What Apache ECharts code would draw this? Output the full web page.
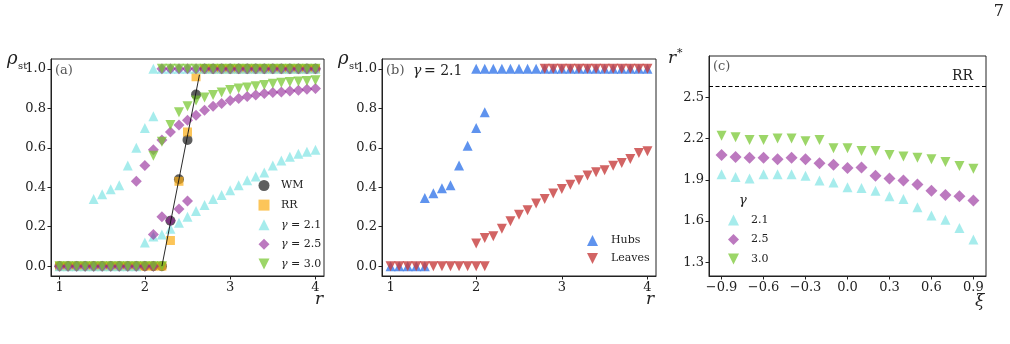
<!DOCTYPE html>
<html>
<head>
<meta charset="utf-8">
<script src="https://cdn.jsdelivr.net/npm/echarts@6/dist/echarts.min.js"></script>
<style>
  html, body { margin: 0; padding: 0; background: #fff; }
  #chart { width: 1010px; height: 344px; }
</style>
</head>
<body>
<div id="chart"></div>
<script>
// ---- panel (a): rho_st vs r ----
const rGrid = [1.0, 1.1, 1.2, 1.3, 1.4, 1.5, 1.6, 1.7, 1.8, 1.9, 2.0, 2.1, 2.2, 2.3, 2.4, 2.5,
  2.6, 2.7, 2.8, 2.9, 3.0, 3.1, 3.2, 3.3, 3.4, 3.5, 3.6, 3.7, 3.8, 3.9, 4.0];
const wmRho = [0, 0, 0, 0, 0, 0, 0, 0, 0, 0, 0, 0, 0, 0.23, 0.44, 0.64, 0.87,
  1, 1, 1, 1, 1, 1, 1, 1, 1, 1, 1, 1, 1, 1];
const rrRho = [0, 0, 0, 0, 0, 0, 0, 0, 0, 0, 0, 0, 0, 0.13, 0.43, 0.68, 0.96,
  1, 1, 1, 1, 1, 1, 1, 1, 1, 1, 1, 1, 1, 1];
const wmFitR = [2.2, 2.64];
const wmFitRho = [0, 0.97];

// gamma = 2.1
const g21LowRho = [0, 0, 0, 0, 0, 0, 0, 0, 0, 0, 0.12, 0.15, 0.16, 0.19, 0.22, 0.25, 0.28,
  0.31, 0.34, 0.36, 0.385, 0.41, 0.435, 0.455, 0.475, 0.51, 0.535, 0.555, 0.57, 0.58, 0.59];
const g21MidR = [1.4, 1.5, 1.6, 1.7, 1.8, 1.9, 2.0, 2.1];
const g21MidRho = [0.34, 0.365, 0.39, 0.41, 0.51, 0.60, 0.70, 0.76];
const g21TopR = [2.1, 2.2, 2.3, 2.4, 2.5, 2.6, 2.7, 2.8, 2.9, 3.0, 3.1, 3.2, 3.3, 3.4, 3.5,
  3.6, 3.7, 3.8, 3.9, 4.0];

// gamma = 2.5
const g25ZeroR = [1.0, 1.1, 1.2, 1.3, 1.4, 1.5, 1.6, 1.7, 1.8, 1.9, 2.0, 2.1];
const g25MidR = [2.1, 2.2, 2.3, 2.4, 2.5];
const g25MidRho = [0.16, 0.25, 0.23, 0.29, 0.33];
const g25UpR = [1.9, 2.0, 2.1, 2.2, 2.3, 2.4, 2.5, 2.6, 2.7, 2.8, 2.9, 3.0, 3.1, 3.2, 3.3,
  3.4, 3.5, 3.6, 3.7, 3.8, 3.9, 4.0];
const g25UpRho = [0.43, 0.51, 0.59, 0.64, 0.68, 0.715, 0.74, 0.765, 0.79, 0.81, 0.825, 0.84,
  0.85, 0.86, 0.868, 0.875, 0.88, 0.883, 0.888, 0.891, 0.897, 0.90];
const g25TopR = [2.2, 2.3, 2.4, 2.5, 2.6, 2.7, 2.8, 2.9, 3.0, 3.1, 3.2, 3.3, 3.4, 3.5,
  3.6, 3.7, 3.8, 3.9, 4.0];

// gamma = 3.0
const g30ZeroR = [1.0, 1.1, 1.2, 1.3, 1.4, 1.5, 1.6, 1.7, 1.8, 1.9, 2.0, 2.1, 2.2];
const g30UpR = [2.1, 2.2, 2.3, 2.4, 2.5, 2.6, 2.7, 2.8, 2.9, 3.0, 3.1, 3.2, 3.3, 3.4, 3.5,
  3.6, 3.7, 3.8, 3.9, 4.0];
const g30UpRho = [0.56, 0.63, 0.715, 0.78, 0.81, 0.84, 0.855, 0.868, 0.88, 0.893, 0.90,
  0.905, 0.912, 0.918, 0.925, 0.93, 0.933, 0.936, 0.938, 0.942];
const g30TopR = [2.2, 2.3, 2.4, 2.5, 2.6, 2.7, 2.8, 2.9, 3.0, 3.1, 3.2, 3.3, 3.4, 3.5,
  3.6, 3.7, 3.8, 3.9, 4.0];

// ---- panel (b): hubs / leaves, gamma = 2.1 ----
const hubZeroR = [1.0, 1.1, 1.2, 1.3, 1.4];
const hubMidR = [1.4, 1.5, 1.6, 1.7, 1.8, 1.9, 2.0, 2.1];
const hubMidRho = [0.345, 0.37, 0.395, 0.41, 0.51, 0.61, 0.70, 0.78];
const hubTopR = [2.0, 2.1, 2.2, 2.3, 2.4, 2.5, 2.6, 2.7, 2.8, 2.9, 3.0, 3.1, 3.2, 3.3, 3.4,
  3.5, 3.6, 3.7, 3.8, 3.9, 4.0];
const leafZeroR = [1.0, 1.1, 1.2, 1.3, 1.4, 1.5, 1.6, 1.7, 1.8, 1.9, 2.0, 2.1];
const leafLowR = [2.0, 2.1, 2.2, 2.3, 2.4, 2.5, 2.6, 2.7, 2.8, 2.9, 3.0, 3.1, 3.2, 3.3, 3.4,
  3.5, 3.6, 3.7, 3.8, 3.9, 4.0];
const leafLowRho = [0.115, 0.143, 0.152, 0.189, 0.228, 0.261, 0.283, 0.317, 0.34, 0.368,
  0.391, 0.413, 0.435, 0.459, 0.476, 0.486, 0.509, 0.523, 0.543, 0.573, 0.582];
const leafTopR = [2.8, 2.9, 3.0, 3.1, 3.2, 3.3, 3.4, 3.5, 3.6, 3.7, 3.8, 3.9, 4.0];

// ---- panel (c): r* vs xi ----
const xiVals = [-0.9, -0.8, -0.7, -0.6, -0.5, -0.4, -0.3, -0.2, -0.1, 0.0, 0.1, 0.2, 0.3,
  0.4, 0.5, 0.6, 0.7, 0.8, 0.9];
const rStar21 = [1.94, 1.92, 1.91, 1.94, 1.94, 1.94, 1.93, 1.895, 1.88, 1.845, 1.84, 1.82,
  1.78, 1.76, 1.70, 1.64, 1.61, 1.55, 1.465];
const rStar25 = [2.08, 2.065, 2.06, 2.06, 2.05, 2.06, 2.05, 2.02, 2.01, 1.985, 1.99, 1.93,
  1.91, 1.895, 1.865, 1.82, 1.79, 1.78, 1.75];
const rStar30 = [2.22, 2.21, 2.19, 2.19, 2.20, 2.20, 2.18, 2.19, 2.13, 2.13, 2.11, 2.11,
  2.08, 2.07, 2.06, 2.05, 2.03, 2.00, 1.98];
const rrLevel = 2.58;

// tick labels
const rTicks = [1, 2, 3, 4];
const rhoTicks = [0, 0.2, 0.4, 0.6, 0.8, 1.0];
const xiTicks = [-0.9, -0.6, -0.3, 0.0, 0.3, 0.6, 0.9];
const rStarTicks = [1.3, 1.6, 1.9, 2.2, 2.5];

const SERIF = '"DejaVu Serif", "Liberation Serif", serif';
const INK = '#222';
const TRI_DOWN = 'path://M0,0 L2,0 L1,2 Z';

const zip = (xs, ys) => xs.map((x, i) => [x, ys[i]]);
const flat = (xs, v) => xs.map(x => [x, v]);
const fmt1 = v => (v < 0 ? '\u2212' : '') + Math.abs(v).toFixed(1);
const fmt0 = v => String(Math.round(v));

const axis = (gridIndex, min, max, ticks, formatter) => ({
  type: 'value',
  gridIndex,
  min,
  max,
  axisLine: { show: true, onZero: false, lineStyle: { color: INK, width: 1 } },
  axisTick: { show: true, inside: false, length: 3.5, customValues: ticks, lineStyle: { color: INK, width: 1 } },
  axisLabel: { customValues: ticks, formatter: formatter || fmt1, color: INK, fontFamily: SERIF, fontSize: 13, margin: 5 },
  splitLine: { show: false }
})

const scatter = (name, idx, data, symbol, size, color, opacity) => ({
  name,
  type: 'scatter',
  xAxisIndex: idx,
  yAxisIndex: idx,
  data,
  symbol,
  symbolSize: size,
  itemStyle: { color, opacity },
  silent: true
})

const C_WM = '#1a1a1a', C_RR = '#fbac13', C_21 = '#80e4e4', C_25 = '#902095', C_30 = '#72c428';
const C_HUB = '#3778ea', C_LEAF = '#c73d3d';

// legend text gets a spacer so text sits where the reference has it
const legendOf = (left, top, gap, spacer, names) => ({
  orient: 'vertical',
  left,
  top,
  itemGap: gap,
  itemWidth: 11,
  itemHeight: 11,
  symbolKeepAspect: true,
  selectedMode: false,
  padding: 0,
  textStyle: {
    color: INK, fontFamily: SERIF, fontSize: 11,
    rich: {
      s: { width: spacer },
      i: { fontStyle: 'italic', fontFamily: SERIF, fontSize: 11, color: INK }
    }
  },
  formatter: n => '{s|}' + (n.startsWith('γ') ? '{i|γ}' + n.slice(1) : n),
  data: names
})

const txt = (x, y, text, size, extra) => ({
  type: 'text',
  style: Object.assign({ x, y, text, fontSize: size, fontFamily: SERIF, fill: INK, verticalAlign: 'middle' }, extra || {})
})

const chart = echarts.init(document.getElementById('chart'), null, { renderer: 'canvas' })

const option = {
  animation: false,
  backgroundColor: '#fff',
  grid: [
    { left: 51, top: 59, width: 273, height: 217, show: true, borderColor: INK, borderWidth: 1, outerBoundsMode: 'none' },
    { left: 382, top: 59, width: 274, height: 217, show: true, borderColor: INK, borderWidth: 1, outerBoundsMode: 'none' },
    { left: 709, top: 56, width: 277, height: 220, show: true, borderColor: INK, borderWidth: 1, outerBoundsMode: 'none' }
  ],
  xAxis: [
    axis(0, 0.9, 4.1, rTicks, fmt0),
    axis(1, 0.9, 4.1, rTicks, fmt0),
    axis(2, -0.99, 0.99, xiTicks)
  ],
  yAxis: [
    axis(0, -0.05, 1.05, rhoTicks),
    axis(1, -0.05, 1.05, rhoTicks),
    axis(2, 1.2, 2.8, rStarTicks)
  ],
  legend: [
    legendOf(258.5, 180, 8.6, 6.5, ['WM', 'RR', 'γ = 2.1', 'γ = 2.5', 'γ = 3.0']),
    legendOf(587, 235, 7, 8, ['Hubs', 'Leaves']),
    legendOf(728, 214.5, 8.5, 7, ['2.1', '2.5', '3.0'])
  ],
  series: [
    {
      name: 'fit', type: 'line', xAxisIndex: 0, yAxisIndex: 0, data: zip(wmFitR, wmFitRho),
      symbol: 'none', lineStyle: { color: '#111', width: 0.9 }, silent: true, z: 3
    },
    scatter('WM', 0, zip(rGrid, wmRho), 'circle', 10, C_WM, 0.7),
    scatter('RR', 0, zip(rGrid, rrRho), 'rect', 9, C_RR, 0.7),
    scatter('γ = 2.1', 0, [...zip(rGrid, g21LowRho), ...zip(g21MidR, g21MidRho), ...flat(g21TopR, 1)], 'triangle', 10, C_21, 0.7),
    scatter('γ = 2.5', 0, [...flat(g25ZeroR, 0), ...zip(g25MidR, g25MidRho), ...zip(g25UpR, g25UpRho), ...flat(g25TopR, 1)], 'diamond', 11, C_25, 0.6),
    scatter('γ = 3.0', 0, [...flat(g30ZeroR, 0), ...zip(g30UpR, g30UpRho), ...flat(g30TopR, 1)], TRI_DOWN, 10, C_30, 0.7),

    scatter('Hubs', 1, [...flat(hubZeroR, 0), ...zip(hubMidR, hubMidRho), ...flat(hubTopR, 1)], 'triangle', 10, C_HUB, 0.8),
    scatter('Leaves', 1, [...flat(leafZeroR, 0), ...zip(leafLowR, leafLowRho), ...flat(leafTopR, 1)], TRI_DOWN, 10, C_LEAF, 0.8),

    Object.assign(scatter('2.1', 2, zip(xiVals, rStar21), 'triangle', 10, C_21, 0.7), {
      markLine: {
        silent: true, symbol: 'none', label: { show: false },
        lineStyle: { type: [4, 2.5], color: '#000', width: 1 },
        data: [{ yAxis: rrLevel }]
      }
    }),
    scatter('2.5', 2, zip(xiVals, rStar25), 'diamond', 12, C_25, 0.6),
    scatter('3.0', 2, zip(xiVals, rStar30), TRI_DOWN, 10, C_30, 0.7)
  ],
  graphic: [
    txt(1004, 12, '7', 16, { align: 'right' }),
    // panel (a)
    txt(7, 59, 'ρ', 18, { fontStyle: 'italic' }),
    txt(18, 66, 'st', 10),
    txt(55, 71, '(a)', 13, { fill: '#555' }),
    txt(315, 300, 'r', 17, { fontStyle: 'italic' }),
    // panel (b)
    txt(338, 59, 'ρ', 18, { fontStyle: 'italic' }),
    txt(349, 66, 'st', 10),
    txt(386, 71, '(b)', 13, { fill: '#555' }),
    txt(413, 71, 'γ', 14, { fontStyle: 'italic' }),
    txt(424, 71, '= 2.1', 14),
    txt(646, 300, 'r', 17, { fontStyle: 'italic' }),
    // panel (c)
    txt(668, 59, 'r', 17, { fontStyle: 'italic' }),
    txt(677, 53, '*', 11),
    txt(713, 67, '(c)', 13, { fill: '#555' }),
    txt(973, 76, 'RR', 14, { align: 'right' }),
    txt(739, 201, 'γ', 13, { fontStyle: 'italic' }),
    txt(975, 302, 'ξ', 17, { fontStyle: 'italic' })
  ]
}

chart.setOption(option)
</script>
</body>
</html>
